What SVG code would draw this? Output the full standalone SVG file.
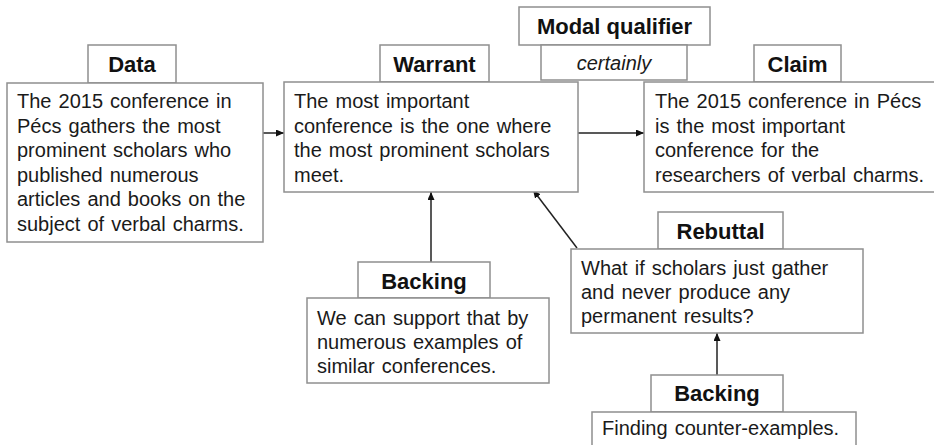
<svg xmlns="http://www.w3.org/2000/svg" width="934" height="445" viewBox="0 0 934 445">
<defs>
<style>
.box{fill:#fff;stroke:#8f8f8f;stroke-width:1.5}
.lbl{font-family:"Liberation Sans",Arial,sans-serif;font-weight:bold;font-size:22px;fill:#111;text-anchor:middle}
.txt{font-family:"Liberation Sans",Arial,sans-serif;font-size:20px;fill:#1a1a1a;word-spacing:1.5px}
.it{font-family:"Liberation Sans",Arial,sans-serif;font-size:20px;font-style:italic;fill:#1a1a1a;text-anchor:middle}
.con{stroke:#222;stroke-width:1.5;fill:none;marker-end:url(#ah)}
</style>
<marker id="ah" markerWidth="8" markerHeight="7" refX="8" refY="3.5" orient="auto" markerUnits="userSpaceOnUse">
<path d="M0,0 L8,3.5 L0,7 Z" fill="#111"/>
</marker>
</defs>
<rect width="934" height="445" fill="#fff"/>
<g id="connectors">
<path class="con" d="M263 133 H284"/>
<path class="con" d="M578 133 H644"/>
<path class="con" d="M431 262 V192"/>
<path class="con" d="M577 248 L533 190"/>
<path class="con" d="M717 375 V333"/>
</g>
<g id="data">
<rect class="box" x="88" y="45" width="88" height="38"/>
<text class="lbl" x="132" y="72">Data</text>
<rect class="box" x="7" y="83" width="256" height="159"/>
<text class="txt"><tspan x="17" y="108">The 2015 conference in</tspan><tspan x="17" y="132.5">Pécs gathers the most</tspan><tspan x="17" y="157">prominent scholars who</tspan><tspan x="17" y="181.5">published numerous</tspan><tspan x="17" y="206">articles and books on the</tspan><tspan x="17" y="230.5">subject of verbal charms.</tspan></text>
</g>
<g id="warrant">
<rect class="box" x="380" y="45" width="109" height="37"/>
<text class="lbl" x="434.5" y="72">Warrant</text>
<rect class="box" x="284" y="82" width="294" height="110"/>
<text class="txt"><tspan x="294" y="108">The most important</tspan><tspan x="294" y="132.5">conference is the one where</tspan><tspan x="294" y="157">the most prominent scholars</tspan><tspan x="294" y="181.5">meet.</tspan></text>
</g>
<g id="qualifier">
<rect class="box" x="519" y="7" width="191" height="38"/>
<text class="lbl" x="614.5" y="34">Modal qualifier</text>
<rect class="box" x="541" y="45" width="146" height="35"/>
<text class="it" x="614" y="70">certainly</text>
</g>
<g id="claim">
<rect class="box" x="754" y="45" width="87" height="37"/>
<text class="lbl" x="797.5" y="72">Claim</text>
<rect class="box" x="644" y="82" width="292" height="110"/>
<text class="txt"><tspan x="655" y="108">The 2015 conference in Pécs</tspan><tspan x="655" y="132.5">is the most important</tspan><tspan x="655" y="157">conference for the</tspan><tspan x="655" y="181.5">researchers of verbal charms.</tspan></text>
</g>
<g id="backing1">
<rect class="box" x="358" y="262" width="132" height="36"/>
<text class="lbl" x="424" y="289">Backing</text>
<rect class="box" x="307" y="298" width="242" height="85"/>
<text class="txt"><tspan x="317" y="325">We can support that by</tspan><tspan x="317" y="349">numerous examples of</tspan><tspan x="317" y="373">similar conferences.</tspan></text>
</g>
<g id="rebuttal">
<rect class="box" x="658" y="212" width="125" height="37"/>
<text class="lbl" x="720.5" y="239">Rebuttal</text>
<rect class="box" x="571" y="249" width="292" height="84"/>
<text class="txt"><tspan x="581" y="275">What if scholars just gather</tspan><tspan x="581" y="299">and never produce any</tspan><tspan x="581" y="323">permanent results?</tspan></text>
</g>
<g id="backing2">
<rect class="box" x="651" y="375" width="132" height="37"/>
<text class="lbl" x="717" y="401">Backing</text>
<rect class="box" x="592" y="412" width="264" height="40"/>
<text class="txt" x="602" y="435">Finding counter-examples.</text>
</g>
</svg>
